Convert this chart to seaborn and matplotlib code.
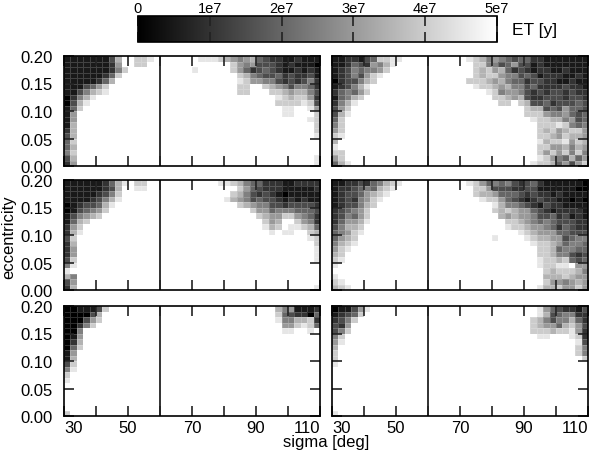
import numpy as np
import pandas as pd
import matplotlib
matplotlib.use('Agg')
import matplotlib.pyplot as plt
import seaborn as sns

# grid of the scan: 2 deg in sigma, 0.01 in eccentricity
sigma = np.arange(31, 111, 2)
ecc = np.round(np.arange(0.195, 0.0, -0.01), 3)   # top row first

# each row: "left|right" -> left part starts at sigma=30, right part ends at sigma=110
# digit d = d*5e6 years, '.' = 5e7 or more (white)
top_left = [
    "111111137..889|9998765674322112111",
    "111111126..88|86563332121110",
    "1111111258|9.....86423432112121",
    "111111248|8754334232231",
    "11111247|9866553232352",
    "1113468|88..876535542",
    "1135789|88...88767753",
    "02579|9878862",
    "0379|8888983",
    "148|99..96",
    "16|99...8",
    "16|98",
    "17|8",
    "27|8",
    "37|9",
    "48|",
    "47|",
    "58|",
    "37|9",
    "26|9",
]
top_right = [
    "11221348899|9875654344221111111",
    "1124326579|885534633121111111",
    "123545568|878674232122112111",
    "12353689|878865534312221121",
    "0233578|8887675442332211211",
    "123579|988767553422223221",
    "245468|9856653232332322",
    "14578|887673223332332",
    "2579|88.87334233343",
    "368|8773436443",
    "379|8886556434",
    "48|988775634",
    "58|88898545",
    "68|87867886",
    "89|88768776",
    "7|97889687",
    "9|88667576",
    "88|86868585",
    "68|98654746",
    "479|988746368",
]
mid_left = [
    "1111112479.88|9987544222112222",
    "111111237..99|8643222111112",
    "111112358|87532321011111",
    "111123579|976534332121211",
    "01233479|8765533233332",
    "0134568|86645554443",
    "135678|8766886542",
    "1478|867..8652",
    "268|978.99874",
    "279|9.99..87",
    "38|98",
    "27|8",
    "26|9",
    "26|9",
    "38|9",
    "59|",
    "9|",
    "75|",
    "36|",
    "27|9",
]
mid_right = [
    "11223245789|9864545323421111110",
    "1223454789|886333223311111100",
    "123346789|877644432322121111",
    "12325689|98864321232211010",
    "1233578|975543213221111",
    "234568|878766432122221",
    "235468|76766533423121",
    "246679|8876545433322",
    "35778|9887665424322",
    "45689|98766644333",
    "4678|9....9877663455",
    "5789|988764554",
    "689|88745544",
    "78|88755323",
    "89|98878434",
    "9|98899.66",
    "|8788875",
    "9|7778766",
    "89|8665676",
    "789|97786686",
]
bot_left = [
    "0011138|7561112",
    "000037|8432204",
    "000368|9557782",
    "00258|668984",
    "005|99..9.",
    "016|",
    "027|",
    "048|",
    "16|",
    "17|",
    "38|",
    "59|",
    "8|",
    "9|",
    "|",
    "|",
    "|",
    "|",
    "|",
    "8|",
]
bot_right = [
    "011369|96432213",
    "12348|97345522",
    "2358|875355742",
    "326|876647863",
    "358|888788962",
    "58|99...982",
    "69|93",
    "7|85",
    "8|85",
    "8|8",
    "9|",
    "|",
    "|",
    "|",
    "|",
    "|",
    "|",
    "|",
    "|",
    "9|",
]

cbar_ticks = [0, 1e7, 2e7, 3e7, 4e7, 5e7]
cbar_labels = ['0', '1e7', '2e7', '3e7', '4e7', '5e7']
x_ticks = [30, 40, 50, 60, 70, 80, 90, 100, 110]
x_labels = ['30', '', '50', '', '70', '', '90', '', '110']
y_ticks = [0.0, 0.05, 0.10, 0.15, 0.20]
y_labels = ['0.00', '0.05', '0.10', '0.15', '0.20']


def build(rows):
    grid = []
    for row in rows:
        left, right = row.split('|')
        line = left.ljust(15, '.') + right.rjust(25, '.')
        grid.append([5e7 if c == '.' else int(c) * 5e6 for c in line])
    return pd.DataFrame(grid, index=ecc, columns=sigma)


plt.rcParams['font.family'] = ['Liberation Sans', 'DejaVu Sans']
plt.rcParams['font.size'] = 12

fig = plt.figure(figsize=(5.89, 4.52), dpi=100)
W, H = 589.0, 452.0

panels = [[top_left, top_right], [mid_left, mid_right], [bot_left, bot_right]]
col_x = [64, 332]
row_y = [(57, 167), (181, 291), (307, 417)]

cax = fig.add_axes([138 / W, 1 - 43 / H, 359 / W, 26 / H])


def sx(s):
    return (s - 30) / 2.0


def ey(e):
    return (0.2 - e) / 0.01


cbar = None
for i in range(3):
    for j in range(2):
        y0, y1 = row_y[i]
        ax = fig.add_axes([col_x[j] / W, 1 - y1 / H, 256 / W, (y1 - y0) / H])
        first = (i == 0 and j == 0)
        sns.heatmap(build(panels[i][j]), ax=ax, cmap='gray', vmin=0, vmax=5e7,
                    linewidths=0.4, linecolor=(1, 1, 1, 0.18),
                    xticklabels=False, yticklabels=False,
                    cbar=first, cbar_ax=cax if first else None,
                    cbar_kws={'orientation': 'horizontal', 'ticks': cbar_ticks} if first else None)
        if first:
            cbar = ax.collections[0].colorbar
        ax.axvline(sx(60), color='#222222', lw=1.3)
        for sp in ax.spines.values():
            sp.set_visible(True)
            sp.set_linewidth(1.2)
            sp.set_color('black')
        ax.set_xticks([sx(s) for s in x_ticks])
        ax.set_yticks([ey(e) for e in y_ticks])
        ax.tick_params(direction='in', top=True, right=True, bottom=True, left=True,
                       length=7, width=1.2, color='#222222', labelsize=12)
        ax.tick_params(axis='y', pad=8)
        ax.tick_params(axis='x', pad=3)
        if j == 0:
            ax.set_yticklabels(y_labels)
        else:
            ax.set_yticklabels([])
        if i == 2:
            ax.set_xticklabels(x_labels)
            lbls = ax.get_xticklabels()
            lbls[0].set_ha('left')
            lbls[-1].set_ha('right')
        else:
            ax.set_xticklabels([])
        ax.set_xlabel('')
        ax.set_ylabel('')

cax.set_xticks(cbar_ticks)
cax.set_xticklabels(cbar_labels)
cax.tick_params(axis='x', direction='in', top=True, bottom=True, labeltop=True,
                labelbottom=False, length=7, width=1.2, color='#222222', pad=0.5,
                labelsize=10.5)
if cbar is not None:
    cbar.outline.set_linewidth(1.2)

fig.text(512 / W, 1 - 30 / H, 'ET [y]', ha='left', va='center', fontsize=12.5)
fig.text(9 / W, 1 - 237 / H, 'eccentricity', rotation=90, ha='center', va='center', fontsize=12)
fig.text(326 / W, 1 - 447 / H, 'sigma [deg]', ha='center', va='baseline', fontsize=12)

fig.savefig('out.png', dpi=100)
